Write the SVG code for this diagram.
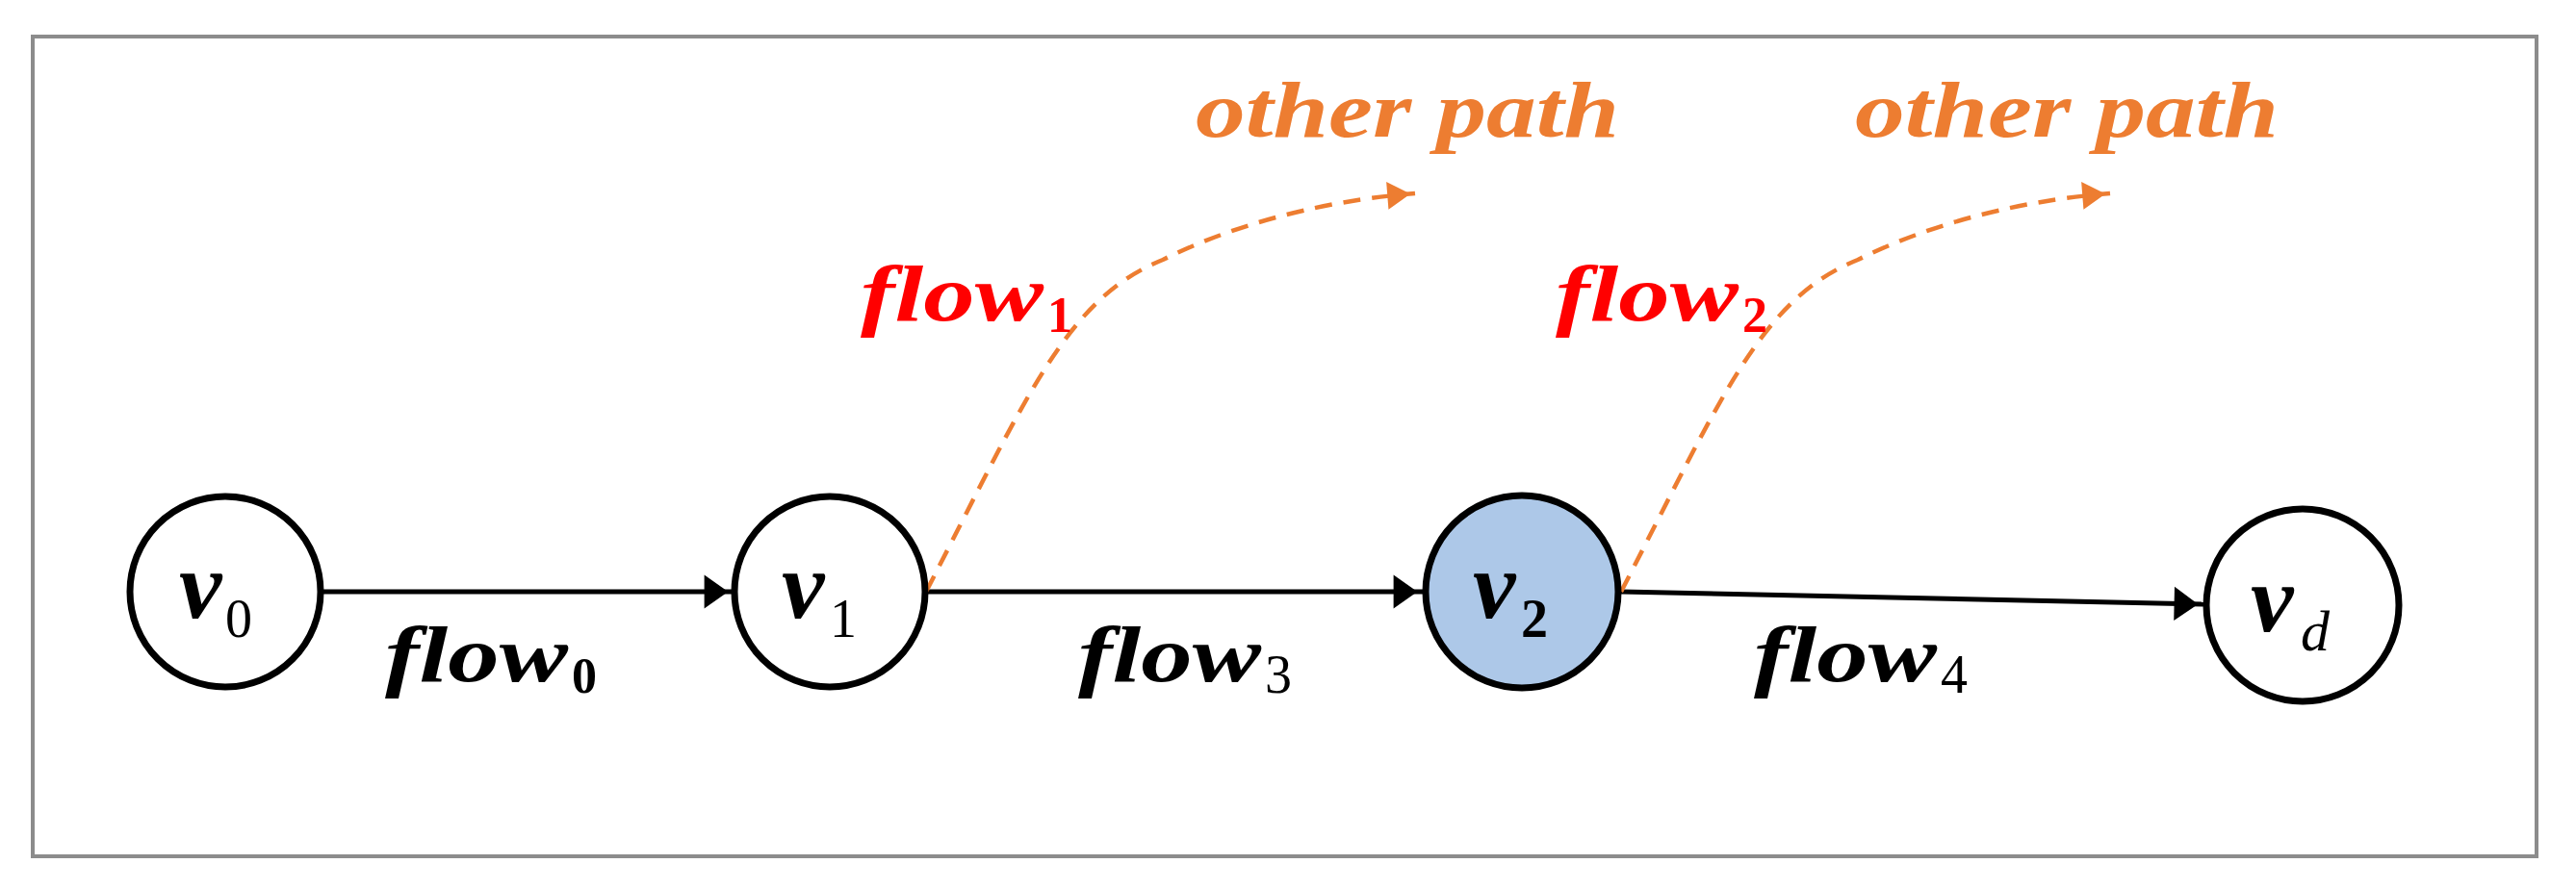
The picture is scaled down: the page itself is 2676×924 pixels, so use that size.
<svg xmlns="http://www.w3.org/2000/svg" width="2676" height="924" viewBox="0 0 2676 924">
<style>
.n{fill:#fff;stroke:#000;stroke-width:7}
.t{font-family:"Liberation Serif",serif;font-style:italic;font-weight:bold}
.s{font-family:"Liberation Serif",serif;font-weight:normal;font-style:normal}
.b{font-family:"Liberation Serif",serif;font-weight:bold;font-style:normal}
.e{stroke:#000;stroke-width:5;fill:none;marker-end:url(#ah)}
.d{stroke:#ED7D31;stroke-width:4.5;fill:none;stroke-dasharray:18 12;marker-end:url(#ao)}
.o{fill:#ED7D31;font-size:84}
</style>
<defs>
<marker id="ah" viewBox="0 0 10 10" refX="10" refY="5" markerWidth="8" markerHeight="8" orient="auto" markerUnits="userSpaceOnUse" style="overflow:visible"><path d="M-28,-17 L3,5 L-28,27 z"/></marker>
<marker id="ao" viewBox="0 0 10 10" refX="10" refY="5" markerWidth="8" markerHeight="8" orient="auto" markerUnits="userSpaceOnUse" style="overflow:visible"><path d="M-26,-13 L4,5 L-26,23 z" fill="#ED7D31"/></marker>
</defs>
<rect x="34" y="38" width="2601" height="852" fill="#fff" stroke="#8C8C8C" stroke-width="4"/>
<g id="connectors">
<line class="e" x1="336" y1="615" x2="762" y2="615"/>
<line class="e" x1="962" y1="615" x2="1478" y2="615"/>
<line class="e" x1="1684" y1="615" x2="2289" y2="628"/>
<path class="d" d="M962,615 C1068,410 1108,310 1208,270 C1268,240 1358,210 1470,201"/>
<path class="d" d="M1684,615 C1790,410 1830,310 1930,270 C1990,240 2080,210 2192,201"/>
</g>
<g class="t" font-size="82">
<text x="400" y="708" textLength="190" lengthAdjust="spacingAndGlyphs">flow</text><text x="594" y="720" class="b" font-size="52">0</text>
<text x="1120" y="708" textLength="190" lengthAdjust="spacingAndGlyphs">flow</text><text x="1314" y="720" class="s" font-size="56">3</text>
<text x="1822" y="708" textLength="190" lengthAdjust="spacingAndGlyphs">flow</text><text x="2016" y="720" class="s" font-size="56">4</text>
<g fill="#FF0000">
<text x="894" y="333" textLength="190" lengthAdjust="spacingAndGlyphs">flow</text><text x="1088" y="345" class="b" font-size="52">1</text>
<text x="1616" y="333" textLength="190" lengthAdjust="spacingAndGlyphs">flow</text><text x="1810" y="345" class="b" font-size="52">2</text>
</g>
<text class="o" x="1242" y="142" textLength="440" lengthAdjust="spacingAndGlyphs">other path</text>
<text class="o" x="1927" y="142" textLength="440" lengthAdjust="spacingAndGlyphs">other path</text>
</g>
<g id="v0"><circle class="n" cx="234" cy="615" r="99"/><text class="t" x="186" y="642" font-size="100">v</text><text class="s" x="234" y="662" font-size="56">0</text></g>
<g id="v1"><circle class="n" cx="862" cy="615" r="99"/><text class="t" x="812" y="642" font-size="100">v</text><text class="s" x="862" y="662" font-size="56">1</text></g>
<g id="v2"><circle class="n" cx="1581" cy="615" r="100" style="fill:#ADC8E8"/><text class="t" x="1530" y="642" font-size="100">v</text><text class="b" x="1580" y="662" font-size="56">2</text></g>
<g id="vd"><circle class="n" cx="2392" cy="629" r="100"/><text class="t" x="2338" y="656" font-size="100">v</text><text x="2390" y="676" font-size="60" style="font-family:'Liberation Serif',serif;font-style:italic;font-weight:normal">d</text></g>
</svg>
